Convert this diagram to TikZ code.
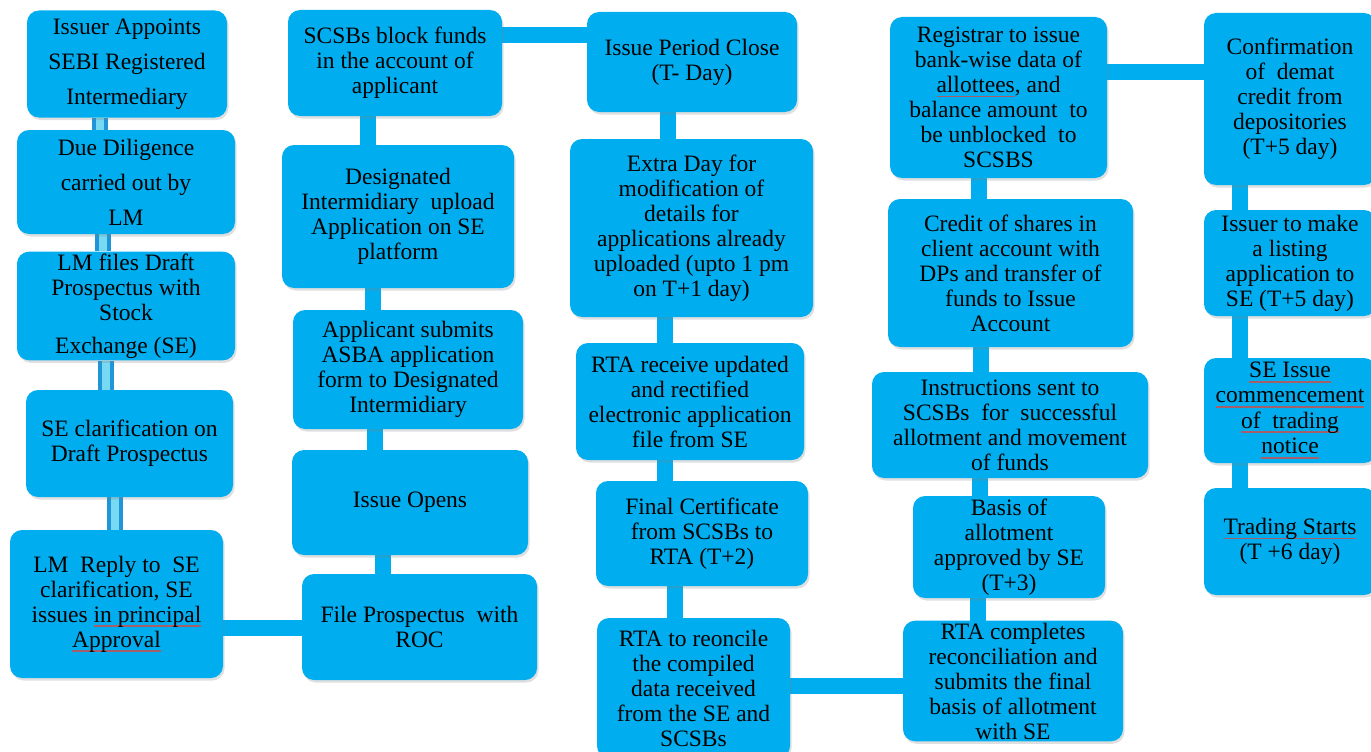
\documentclass[tikz,border=0pt]{standalone}
\usepackage{fontspec}
\setmainfont{Liberation Serif}
\newfontfamily\boxfont{Liberation Serif}
\usepackage{tikz}
\usetikzlibrary{shadows}
\usetikzlibrary{backgrounds}
\definecolor{sblue}  {RGB}{0,174,239}
\definecolor{tdark}  {RGB}{30,150,215}
\definecolor{tlight} {RGB}{120,218,242}
\definecolor{spell}  {RGB}{165,95,105}
\newcommand{\spellmark}[1]{\setbox0\hbox{#1}\rlap{\textcolor{spell}{\rule[-4.6pt]{\wd0}{1.6pt}}}\box0}
\tikzset{
    stage/.style 2 args={rounded corners=12pt, fill=sblue, align=center, inner sep=2pt,
             minimum width=#1pt, minimum height=#2pt, text=black,
             font=\boxfont\fontsize{23.5}{25}\selectfont,
             drop shadow={opacity=0.25, shadow xshift=1.5pt, shadow yshift=-2.5pt}
    },
    loose/.style={font=\boxfont\fontsize{23.5}{35}\selectfont},
    link/.style={draw=sblue, line width=16pt},
    tube/.style={draw=tdark, line width=16pt,
             postaction={draw=tlight, line width=8pt}
    }
  }
\begin{document}
\begin{tikzpicture}[x=1pt, y=-1pt]
  \useasboundingbox (0,0) rectangle (1371,752);
  %Column 1
      \node[stage={200}{107}, loose] (a1) at (127,64) {Issuer Appoints\\SEBI Registered\\Intermediary};
      \node[stage={218}{104}, loose] (a2) at (126,182) {Due Diligence\\carried out by\\LM};
      \node[stage={218}{106}] (a3) at (126,306) {LM files Draft\\Prospectus with\\Stock\\[8pt]Exchange (SE)};
      \node[stage={207}{107}] (a4) at (129.5,443.5) {SE clarification on\\Draft Prospectus};
      \node[stage={213}{148}] (a5) at (116.5,604) {LM~ Reply to~ SE\\clarification, SE\\issues \spellmark{in principal}\\\spellmark{Approval}};
  %Column 2
      \node[stage={214}{106}] (b1) at (395,63) {SCSBs block funds\\in the account of\\applicant};
      \node[stage={232}{143}] (b2) at (398,216.5) {Designated\\Intermidiary~ upload\\Application on SE\\platform};
      \node[stage={230}{119}] (b3) at (408,369.5) {Applicant submits\\ASBA application\\form to Designated\\Intermidiary};
      \node[stage={236}{105}] (b4) at (410,502.5) {Issue Opens};
      \node[stage={235}{106}] (b5) at (419.5,627) {File Prospectus~ with\\ROC};
  %Column 3
      \node[stage={210}{100}] (c1) at (692,62) {Issue Period Close\\(T- Day)};
      \node[stage={243}{178}] (c2) at (691.5,228) {Extra Day for\\modification of\\details for\\applications already\\uploaded (upto 1 pm\\on T+1 day)};
      \node[stage={228}{117}] (c3) at (690,401.5) {RTA receive updated\\and rectified\\electronic application\\file from SE};
      \node[stage={212}{105}] (c4) at (702,533.5) {Final Certificate\\from SCSBs to\\RTA (T+2)};
      \node[stage={193}{140}] (c5) at (693.5,688) {RTA to reoncile\\the compiled\\data received\\from the SE and\\SCSBs};
  %Column 4
      \node[stage={217}{161}] (d1) at (998.5,97.5) {Registrar to issue\\bank-wise data of\\\spellmark{allottees}, and\\balance amount~ to\\be unblocked~ to\\SCSBS};
      \node[stage={245}{148}] (d2) at (1010.5,273) {Credit of shares in\\client account with\\DPs and transfer of\\funds to Issue\\Account};
      \node[stage={276}{106}] (d3) at (1010,425) {Instructions sent to\\SCSBs~ for~ successful\\allotment and movement\\of funds};
      \node[stage={192}{102}] (d4) at (1009,547) {Basis of\\allotment\\approved by SE\\(T+3)};
      \node[stage={220}{118}] (d5) at (1013,681) {RTA completes\\reconciliation and\\submits the final\\basis of allotment\\with SE};
  %Column 5
      \node[stage={172}{172}] (e1) at (1290,99) {Confirmation\\of~ demat\\credit from\\depositories\\(T+5 day)};
      \node[stage={172}{106}] (e2) at (1290,263) {Issuer to make\\a listing\\application to\\SE (T+5 day)};
      \node[stage={172}{105}] (e3) at (1290,410.5) {\spellmark{SE Issue}\\\spellmark{commencement}\\[0.5pt]\spellmark{of~ trading}\\[0.5pt]\spellmark{notice}};
      \node[stage={172}{107}] (e4) at (1290,541.5) {\spellmark{Trading Starts}\\(T +6 day)};
  % connectors
  \begin{scope}[on background layer]
      \draw[tube] ([xshift=-27pt]a1.south) -- ([xshift=-27pt]a1.south |- a2.north);
      \draw[tube] ([xshift=-23pt]a2.south) -- ([xshift=-23pt]a2.south |- a3.north);
      \draw[tube] ([xshift=-20pt]a3.south) -- ([xshift=-20pt]a3.south |- a4.north);
      \draw[tube] ([xshift=-14.5pt]a4.south) -- ([xshift=-14.5pt]a4.south |- a5.north);
      \draw[link] ([yshift=-24pt]a5.east) -- ([yshift=-24pt]a5.east -| b5.west);
      \draw[link] ([xshift=-27pt]b4.south) -- ([xshift=-27pt]b4.south |- b5.north);
      \draw[link] ([xshift=-33pt]b3.south) -- ([xshift=-33pt]b3.south |- b4.north);
      \draw[link] ([xshift=-25pt]b2.south) -- ([xshift=-25pt]b2.south |- b3.north);
      \draw[link] ([xshift=-27pt]b1.south) -- ([xshift=-27pt]b1.south |- b2.north);
      \draw[link] ([yshift=28pt]b1.east) -- ([yshift=28pt]b1.east -| c1.west);
      \draw[link] ([xshift=-24pt]c1.south) -- ([xshift=-24pt]c1.south |- c2.north);
      \draw[link] ([xshift=-26.5pt]c2.south) -- ([xshift=-26.5pt]c2.south |- c3.north);
      \draw[link] ([xshift=-25pt]c3.south) -- ([xshift=-25pt]c3.south |- c4.north);
      \draw[link] ([xshift=-27pt]c4.south) -- ([xshift=-27pt]c4.south |- c5.north);
      \draw[link] ([yshift=2pt]c5.east) -- ([yshift=2pt]c5.east -| d5.west);
      \draw[link] ([xshift=-31pt]d4.south) -- ([xshift=-31pt]d4.south |- d5.north);
      \draw[link] ([xshift=-30pt]d3.south) -- ([xshift=-30pt]d3.south |- d4.north);
      \draw[link] ([xshift=-29.5pt]d2.south) -- ([xshift=-29.5pt]d2.south |- d3.north);
      \draw[link] ([xshift=-19.5pt]d1.south) -- ([xshift=-19.5pt]d1.south |- d2.north);
      \draw[link] ([yshift=25.5pt]d1.east) -- ([yshift=25.5pt]d1.east -| e1.west);
      \draw[link] ([xshift=-50pt]e1.south) -- ([xshift=-50pt]e1.south |- e2.north);
      \draw[link] ([xshift=-50pt]e2.south) -- ([xshift=-50pt]e2.south |- e3.north);
      \draw[link] ([xshift=-50pt]e3.south) -- ([xshift=-50pt]e3.south |- e4.north);
  \end{scope}
\end{tikzpicture}
\end{document}
